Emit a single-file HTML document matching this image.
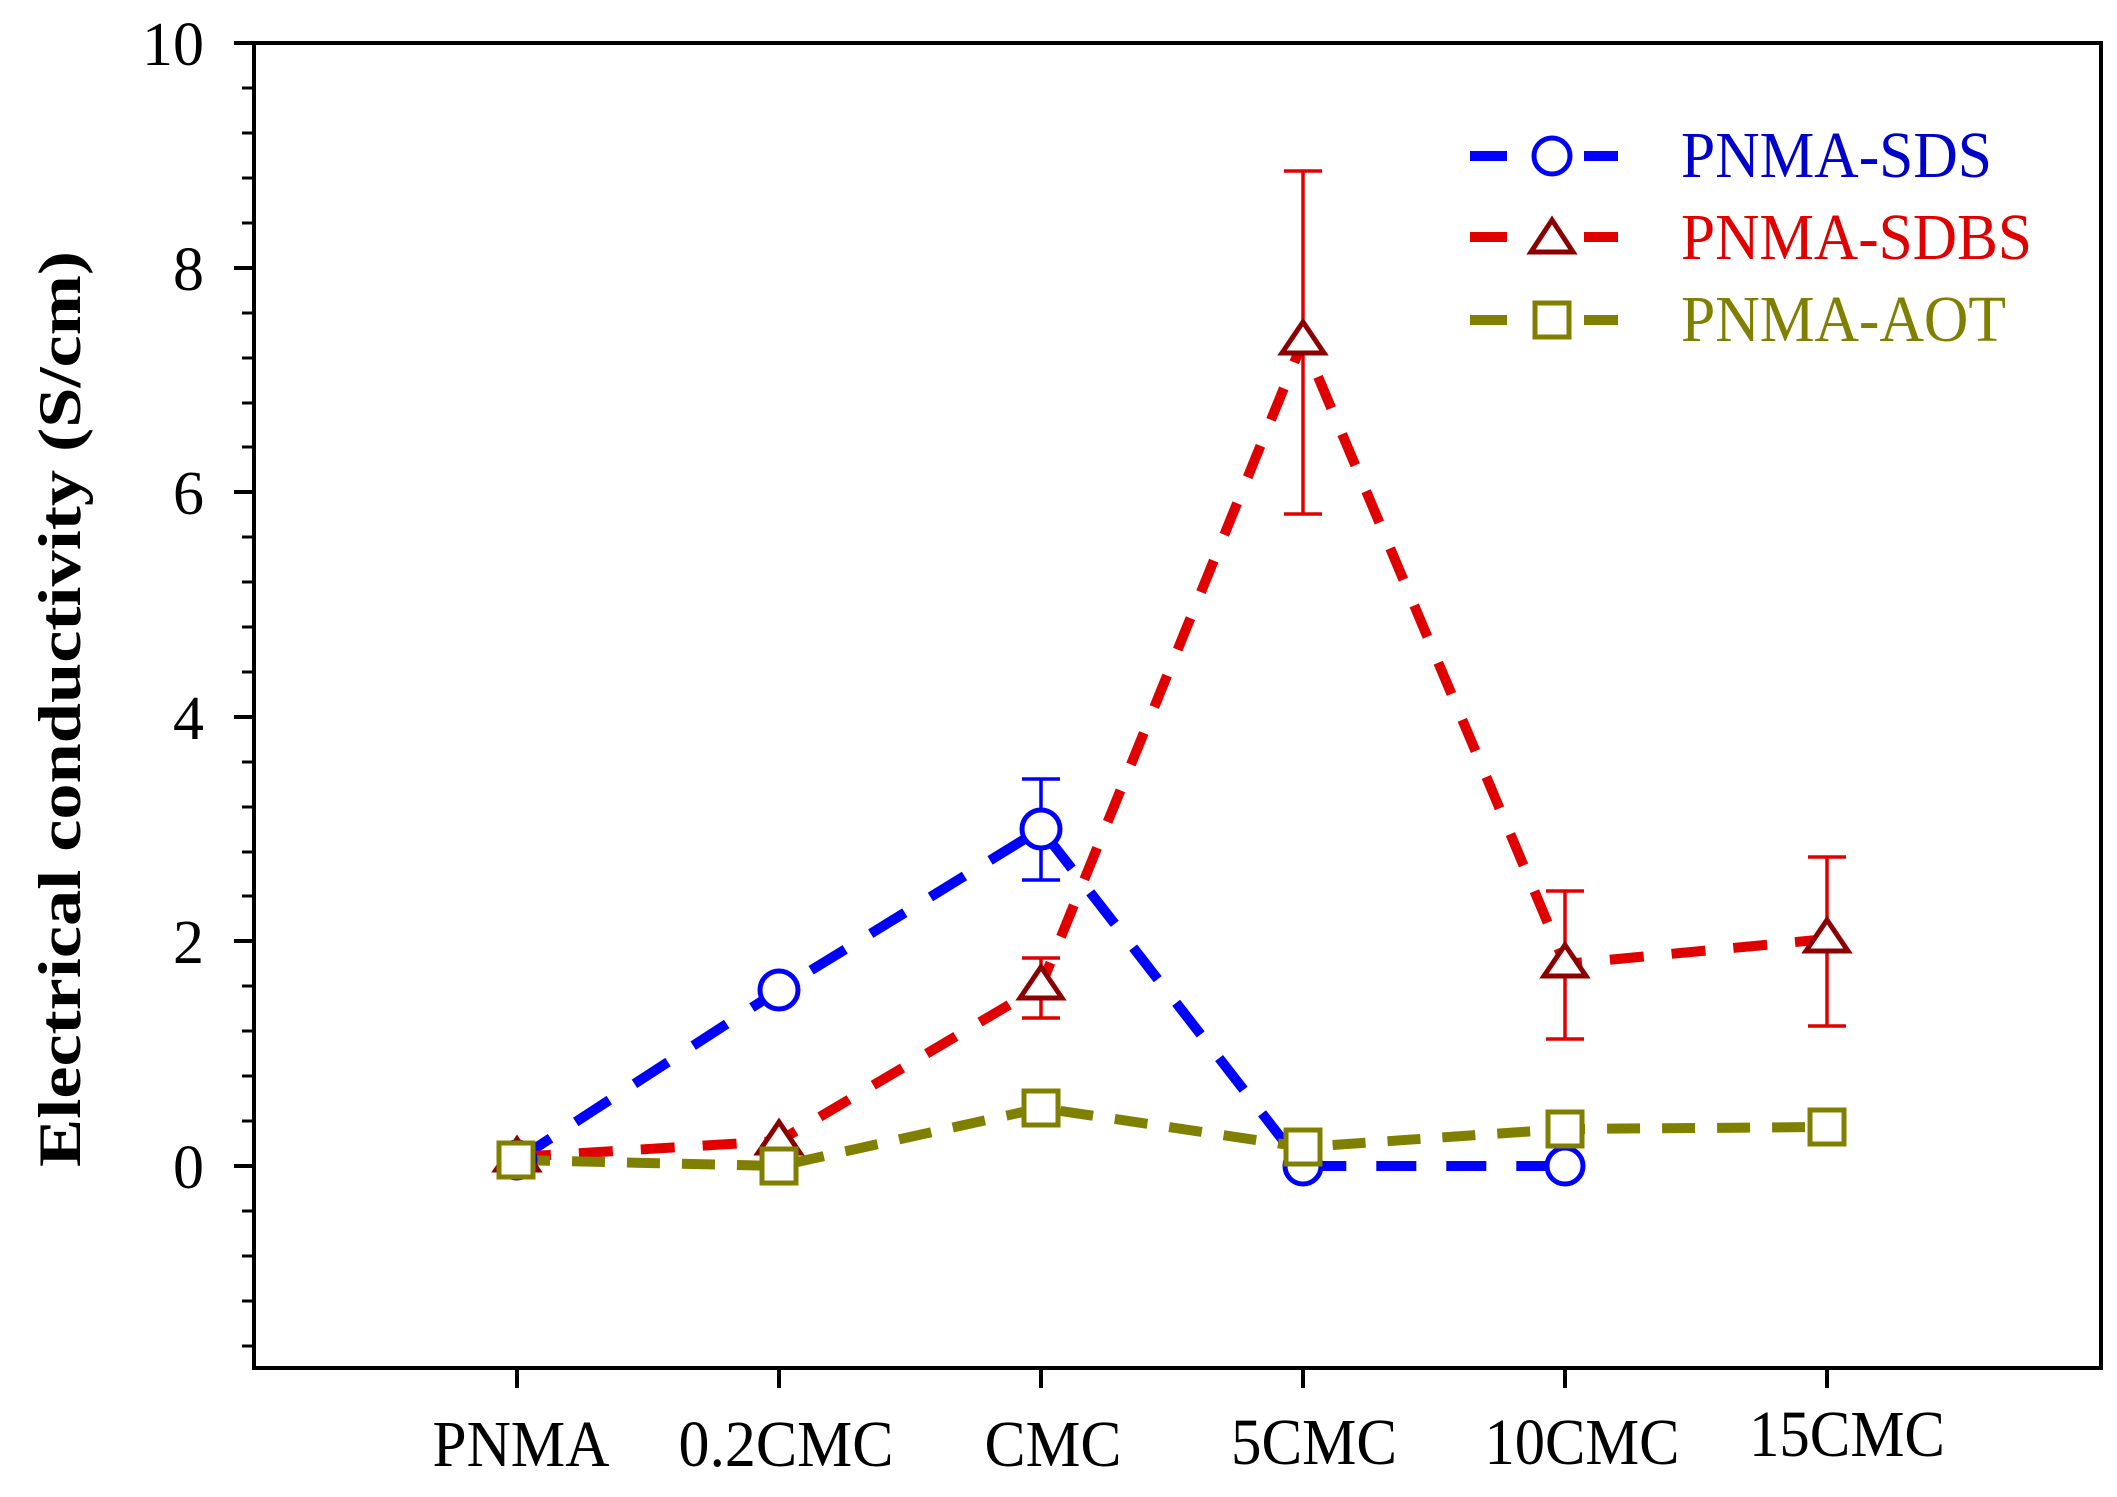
<!DOCTYPE html>
<html><head><meta charset="utf-8"><style>html,body{margin:0;padding:0;background:#fff}svg{display:block}</style></head>
<body>
<svg xmlns="http://www.w3.org/2000/svg" width="2117" height="1497" viewBox="0 0 2117 1497" font-family="Liberation Serif, serif">
<rect x="0" y="0" width="2117" height="1497" fill="#fff"/>
<rect x="254" y="43" width="1847" height="1325" fill="none" stroke="#000" stroke-width="4"/>
<g stroke="#000" stroke-width="4">
<line x1="234" y1="43" x2="254" y2="43"/><line x1="234" y1="268" x2="254" y2="268"/><line x1="234" y1="492" x2="254" y2="492"/><line x1="234" y1="717" x2="254" y2="717"/><line x1="234" y1="941" x2="254" y2="941"/><line x1="234" y1="1166" x2="254" y2="1166"/>
</g>
<g stroke="#000" stroke-width="3">
<line x1="242" y1="88" x2="254" y2="88"/><line x1="242" y1="133" x2="254" y2="133"/><line x1="242" y1="178" x2="254" y2="178"/><line x1="242" y1="223" x2="254" y2="223"/>
<line x1="242" y1="313" x2="254" y2="313"/><line x1="242" y1="358" x2="254" y2="358"/><line x1="242" y1="403" x2="254" y2="403"/><line x1="242" y1="447" x2="254" y2="447"/>
<line x1="242" y1="537" x2="254" y2="537"/><line x1="242" y1="582" x2="254" y2="582"/><line x1="242" y1="627" x2="254" y2="627"/><line x1="242" y1="672" x2="254" y2="672"/>
<line x1="242" y1="762" x2="254" y2="762"/><line x1="242" y1="807" x2="254" y2="807"/><line x1="242" y1="852" x2="254" y2="852"/><line x1="242" y1="896" x2="254" y2="896"/>
<line x1="242" y1="986" x2="254" y2="986"/><line x1="242" y1="1031" x2="254" y2="1031"/><line x1="242" y1="1076" x2="254" y2="1076"/><line x1="242" y1="1121" x2="254" y2="1121"/>
<line x1="242" y1="1211" x2="254" y2="1211"/><line x1="242" y1="1256" x2="254" y2="1256"/><line x1="242" y1="1301" x2="254" y2="1301"/><line x1="242" y1="1346" x2="254" y2="1346"/>
</g>
<g font-size="62" text-anchor="end" fill="#000">
<text x="204" y="65">10</text><text x="204" y="290">8</text><text x="204" y="514">6</text><text x="204" y="739">4</text><text x="204" y="963">2</text><text x="204" y="1188">0</text>
</g>
<g stroke="#000" stroke-width="4">
<line x1="517" y1="1368" x2="517" y2="1388"/><line x1="779" y1="1368" x2="779" y2="1388"/><line x1="1041" y1="1368" x2="1041" y2="1388"/><line x1="1303" y1="1368" x2="1303" y2="1388"/><line x1="1565" y1="1368" x2="1565" y2="1388"/><line x1="1827" y1="1368" x2="1827" y2="1388"/>
</g>
<g font-size="66" text-anchor="middle" fill="#000">
<text x="521" y="1466" textLength="177" lengthAdjust="spacingAndGlyphs">PNMA</text>
<text x="786" y="1466" textLength="215" lengthAdjust="spacingAndGlyphs">0.2CMC</text>
<text x="1053" y="1466" textLength="137" lengthAdjust="spacingAndGlyphs">CMC</text>
<text x="1314" y="1464" textLength="166" lengthAdjust="spacingAndGlyphs">5CMC</text>
<text x="1582" y="1464" textLength="195" lengthAdjust="spacingAndGlyphs">10CMC</text>
<text x="1847" y="1456" textLength="196" lengthAdjust="spacingAndGlyphs">15CMC</text>
</g>
<text transform="translate(80,709) rotate(-90)" font-size="60" font-weight="bold" text-anchor="middle" textLength="916" lengthAdjust="spacingAndGlyphs">Electrical conductivity (S/cm)</text>
<polyline points="517,1160 779,990 1041,829 1303,1166 1565,1166" fill="none" stroke="#0000ff" stroke-width="10" stroke-dasharray="40,30"/>
<polyline points="517,1157 779,1141 1041,986 1303,341 1565,964 1827,939" fill="none" stroke="#e00000" stroke-width="10" stroke-dasharray="34,28"/>
<polyline points="517,1160 779,1166 1041,1108 1303,1147 1565,1129 1827,1127" fill="none" stroke="#808000" stroke-width="10" stroke-dasharray="33,22"/>
<g stroke="#0000ff" stroke-width="3.5"><line x1="1041" y1="779" x2="1041" y2="880"/><line x1="1022" y1="779" x2="1060" y2="779"/><line x1="1022" y1="880" x2="1060" y2="880"/></g>
<g stroke="#e00000" stroke-width="3.5">
<line x1="1041" y1="958" x2="1041" y2="1018"/><line x1="1022" y1="958" x2="1060" y2="958"/><line x1="1022" y1="1018" x2="1060" y2="1018"/>
<line x1="1303" y1="171" x2="1303" y2="514"/><line x1="1284" y1="171" x2="1322" y2="171"/><line x1="1284" y1="514" x2="1322" y2="514"/>
<line x1="1565" y1="891" x2="1565" y2="1039"/><line x1="1546" y1="891" x2="1584" y2="891"/><line x1="1546" y1="1039" x2="1584" y2="1039"/>
<line x1="1827" y1="857" x2="1827" y2="1026"/><line x1="1808" y1="857" x2="1846" y2="857"/><line x1="1808" y1="1026" x2="1846" y2="1026"/>
</g>
<g fill="#fff" stroke="#0000ff" stroke-width="5">
<circle cx="517" cy="1160" r="18"/><circle cx="779" cy="990" r="19"/><circle cx="1041" cy="829" r="19"/><circle cx="1303" cy="1166" r="18"/><circle cx="1565" cy="1166" r="18"/>
</g>
<g fill="#fff" stroke="#8b0000" stroke-width="5">
<polygon points="517,1139 538,1170 496,1170"/>
<polygon points="779,1122 800,1153 758,1153"/>
<polygon points="1041,967 1062,998 1020,998"/>
<polygon points="1303,322 1324,353 1282,353"/>
<polygon points="1565,945 1586,976 1544,976"/>
<polygon points="1827,920 1848,951 1806,951"/>
</g>
<g fill="#fff" stroke="#808000" stroke-width="5">
<rect x="499" y="1143" width="34" height="34"/><rect x="762" y="1149" width="34" height="34"/><rect x="1024" y="1091" width="34" height="34"/><rect x="1286" y="1130" width="34" height="34"/><rect x="1548" y="1112" width="34" height="34"/><rect x="1810" y="1110" width="34" height="34"/>
</g>
<g stroke-width="10">
<line x1="1470" y1="156" x2="1507" y2="156" stroke="#0000ff"/><line x1="1584" y1="156" x2="1618" y2="156" stroke="#0000ff"/>
<line x1="1470" y1="237" x2="1507" y2="237" stroke="#e00000"/><line x1="1584" y1="237" x2="1618" y2="237" stroke="#e00000"/>
<line x1="1470" y1="320" x2="1507" y2="320" stroke="#808000"/><line x1="1584" y1="320" x2="1618" y2="320" stroke="#808000"/>
</g>
<circle cx="1552" cy="156" r="18" fill="#fff" stroke="#0000ff" stroke-width="5"/>
<polygon points="1552,220 1573,252 1531,252" fill="#fff" stroke="#8b0000" stroke-width="5"/>
<rect x="1535" y="303" width="34" height="34" fill="#fff" stroke="#808000" stroke-width="5"/>
<g font-size="66">
<text x="1681" y="177" fill="#0000cc" textLength="311" lengthAdjust="spacingAndGlyphs">PNMA-SDS</text>
<text x="1681" y="259" fill="#e00000" textLength="351" lengthAdjust="spacingAndGlyphs">PNMA-SDBS</text>
<text x="1681" y="341" fill="#808000" textLength="325" lengthAdjust="spacingAndGlyphs">PNMA-AOT</text>
</g>
</svg>
</body></html>
